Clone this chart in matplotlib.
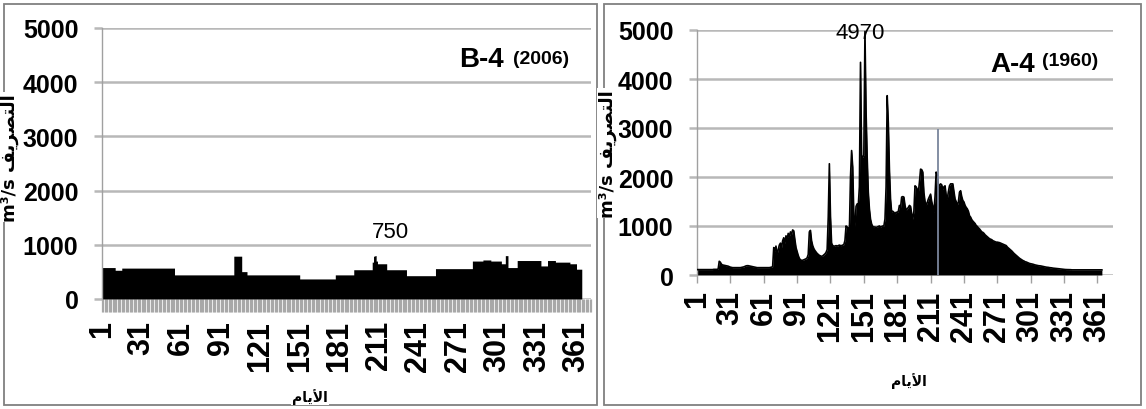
import numpy as np
import matplotlib
matplotlib.use("Agg")
import matplotlib.pyplot as plt
from matplotlib.patches import Rectangle

W, H = 1146, 410

# ---------------- data ----------------
days = np.arange(1, 366)
day_ticks = [1, 31, 61, 91, 121, 151, 181, 211, 241, 271, 301, 331, 361]
day_tick_labels = [str(d) for d in day_ticks]
y_ticks = [0, 1000, 2000, 3000, 4000, 5000]

# B-4 (2006): step-like discharge, given as (start day, value) runs
b4_run_start = [1, 11, 16, 56, 101, 107, 111, 151, 178, 192, 206, 207, 208, 209, 210,
                217, 232, 254, 282, 290, 296, 304, 307, 309, 316, 334, 339, 345, 356, 361]
b4_run_value = [580, 530, 570, 445, 790, 505, 445, 370, 445, 540, 680, 790, 800, 700, 650,
                540, 430, 560, 700, 720, 700, 650, 800, 580, 710, 610, 710, 680, 650, 550]

# A-4 (1960): daily discharge (m3/s), days 1..365
a4_values = [
    110, 110, 110, 110, 110, 110, 110, 110, 110, 110,
    110, 110, 110, 110, 110, 115, 115, 115, 115, 120,
    280, 260, 220, 205, 200, 195, 190, 185, 180, 170,
    160, 155, 150, 150, 150, 150, 150, 150, 150, 150,
    155, 160, 165, 175, 185, 190, 190, 185, 180, 175,
    170, 165, 160, 155, 150, 150, 150, 150, 150, 150,
    150, 150, 150, 150, 150, 150, 155, 160, 170, 560,
    480, 590, 420, 520, 610, 650, 560, 700, 760, 640,
    800, 720, 850, 780, 880, 830, 920, 900, 720, 560,
    480, 400, 340, 310, 300, 300, 310, 320, 330, 350,
    420, 880, 910, 700, 600, 540, 500, 470, 440, 420,
    400, 390, 380, 390, 410, 430, 460, 520, 1180, 2270,
    1200, 650, 600, 590, 590, 600, 590, 600, 610, 600,
    600, 610, 620, 700, 1000, 980, 950, 900, 2000, 2540,
    2200, 1200, 1000, 1400, 1450, 1420, 1800, 4340, 2430, 2400,
    2450, 4970, 3330, 2400, 1690, 1350, 1140, 1040, 990, 980,
    980, 970, 980, 990, 1000, 980, 990, 1000, 1000, 1140,
    1800, 3660, 3100, 2150, 1550, 1280, 1300, 1280, 1250, 1280,
    1280, 1300, 1420, 1380, 1590, 1600, 1590, 1420, 1320, 1350,
    1380, 1420, 1400, 1250, 1140, 1300, 1820, 1800, 1750, 1680,
    1900, 2160, 2150, 2100, 1680, 1500, 1420, 1480, 1550, 1600,
    1650, 1500, 1400, 1280, 1600, 2100, 2050, 1850, 1820, 1860,
    1840, 1750, 1800, 1820, 1630, 1550, 1700, 1820, 1860, 1860,
    1860, 1700, 1550, 1500, 1420, 1490, 1690, 1720, 1600, 1520,
    1490, 1420, 1380, 1350, 1300, 1210, 1180, 1130, 1100, 1075,
    1050, 1010, 990, 960, 940, 910, 880, 870, 850, 820,
    800, 780, 760, 740, 730, 720, 700, 690, 680, 670,
    670, 665, 660, 650, 640, 630, 620, 610, 600, 570,
    550, 530, 510, 490, 465, 440, 420, 400, 380, 360,
    340, 325, 310, 295, 285, 270, 265, 255, 245, 235,
    230, 225, 220, 212, 205, 200, 195, 190, 188, 185,
    180, 175, 170, 165, 160, 158, 155, 150, 148, 145,
    140, 138, 135, 132, 130, 128, 125, 122, 120, 118,
    115, 112, 110, 110, 110, 108, 108, 105, 105, 105,
    105, 105, 105, 105, 105, 105, 105, 105, 105, 105,
    105, 105, 105, 105, 105, 105, 105, 105, 105, 105,
    105, 105, 105, 105, 105,
]
# separate highlighted day in A-4 (thin slate line)
a4_highlight_day = [218]
a4_highlight_val = [2980]

panel_names = ["B-4", "A-4"]
panel_years = ["(2006)", "(1960)"]
peak_labels = ["750", "4970"]

# Arabic (pre-shaped presentation forms so that letters join correctly)
ylabel_txt = "m\u00b3/s " + "\uFED2\uFEF3\uFEAE\uFEBC\uFE98\uFEDF\uFE8D"   # التصريف
xlabel_txt = "\uFEE1\uFE8E\uFEF3\uFEF7\uFE8D"                                 # الأيام

# ---------------- figure ----------------
b4_len = np.diff(b4_run_start + [366])
b4_values = np.repeat(b4_run_value, b4_len)
a4 = np.array(a4_values)

fig = plt.figure(figsize=(W / 100, H / 100), dpi=100)
fig.patch.set_facecolor("white")

def fx(x):
    return x / W

def fy(y):
    return 1 - y / H

# panel frames
for (x0, x1) in [(4, 597), (604, 1141)]:
    fig.add_artist(Rectangle((fx(x0), fy(406)), (x1 - x0) / W, (406 - 5) / H,
                             transform=fig.transFigure, fill=False,
                             edgecolor="#808080", lw=1.3))

num_font = "Liberation Sans"
grid_col = "#b8b8b8"

axL = fig.add_axes([fx(102), fy(300), (591 - 102) / W, (300 - 29) / H])
axR = fig.add_axes([fx(697), fy(276), (1113 - 697) / W, (276 - 31) / H])

for ax, xmax in [(axL, 372), (axR, 375)]:
    ax.set_xlim(1, xmax)
    ax.set_ylim(0, 5000)
    ax.set_yticks(y_ticks)
    ax.set_yticklabels([str(v) for v in y_ticks], fontfamily=num_font,
                       fontweight="bold", fontsize=18)
    ax.set_xticks(day_ticks)
    ax.set_xticklabels(day_tick_labels, rotation=90, fontfamily=num_font,
                       fontweight="bold", fontsize=22)
    ax.grid(axis="y", color=grid_col, lw=1.8, zorder=0)
    ax.set_axisbelow(True)
    for s in ["top", "right", "bottom"]:
        ax.spines[s].set_visible(False)
    ax.spines["left"].set_color("#a0a0a0")
    ax.spines["left"].set_linewidth(1.0)
    ax.tick_params(axis="y", length=6, width=1.8, color=grid_col, pad=11)
    ax.set_facecolor("none")

# left panel: dense daily tick strip below axis
axL.set_xticks(np.arange(1, 373), minor=True)
axL.tick_params(axis="x", which="both", length=9, width=0.9, color="#a8a8a8",
                pad=6)
axL.fill_between(days, 0, b4_values, step="post", color="black", lw=0, zorder=2)

# right panel
axR.tick_params(axis="x", which="major", length=6, width=1.0, color="#a0a0a0",
                pad=5)
axR.fill_between(days, 0, a4, color="black", lw=0, zorder=2)
axR.plot(days, a4, color="black", lw=1.2, zorder=3)
axR.vlines(a4_highlight_day, 0, a4_highlight_val, color="#7a869c", lw=1.3, zorder=4)

# peak labels
axL.text(220, 1240, peak_labels[0], ha="center", va="center",
         fontfamily=num_font, fontsize=16, zorder=5)
axR.text(148, 4940, peak_labels[1], ha="center", va="center",
         fontfamily=num_font, fontsize=16, zorder=1)

# panel titles
fig.text(fx(459), fy(67), panel_names[0], ha="left", va="baseline",
         fontfamily=num_font, fontweight="bold", fontsize=20)
fig.text(fx(513), fy(64), panel_years[0], ha="left", va="baseline",
         fontfamily=num_font, fontweight="bold", fontsize=14)
fig.text(fx(990), fy(72), panel_names[1], ha="left", va="baseline",
         fontfamily=num_font, fontweight="bold", fontsize=20)
fig.text(fx(1042), fy(66), panel_years[1], ha="left", va="baseline",
         fontfamily=num_font, fontweight="bold", fontsize=14)

# axis labels (Arabic)
for (x, y) in [(10, 158), (608, 154)]:
    fig.text(fx(x), fy(y), ylabel_txt, rotation=90, ha="center", va="center",
             fontfamily=["DejaVu Sans"], fontweight="bold", fontsize=13,
             bbox=dict(facecolor="white", edgecolor="none", pad=1))
for (x, y) in [(310, 397), (909, 381)]:
    fig.text(fx(x), fy(y), xlabel_txt, ha="center", va="center",
             fontfamily=["DejaVu Sans"], fontweight="bold", fontsize=10,
             bbox=dict(facecolor="white", edgecolor="none", pad=1))

fig.savefig("out.png", dpi=100, facecolor="white")
